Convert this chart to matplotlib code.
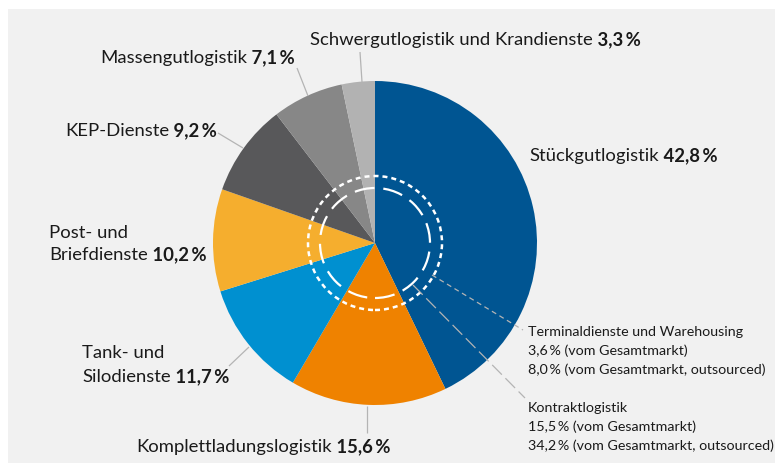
import matplotlib.pyplot as plt
from matplotlib.patches import Rectangle, Circle

W, H = 776, 471

# data
segments = ["Stückgutlogistik", "Komplettladungslogistik", "Tank- und\nSilodienste",
            "Post- und\nBriefdienste", "KEP-Dienste", "Massengutlogistik",
            "Schwergutlogistik und Krandienste"]
shares = [42.8, 15.6, 11.7, 10.2, 9.2, 7.1, 3.3]
share_text = ["42,8\u2009%", "15,6\u2009%", "11,7\u2009%", "10,2\u2009%", "9,2\u2009%", "7,1\u2009%", "3,3\u2009%"]
colors = ["#005592", "#ef8200", "#0090d0", "#f5ae2e", "#58585a", "#878787", "#b2b2b2"]

sub_titles = ["Terminaldienste und Warehousing", "Kontraktlogistik"]
sub_total = ["3,6\u2009% (vom Gesamtmarkt)", "15,5\u2009% (vom Gesamtmarkt)"]
sub_outsourced = ["8,0\u2009% (vom Gesamtmarkt, outsourced)", "34,2\u2009% (vom Gesamtmarkt, outsourced)"]

FONT = ["Lato", "DejaVu Sans"]
FS = 13.3
FS_SMALL = 10.3

fig = plt.figure(figsize=(W / 100, H / 100), dpi=100)
fig.patch.set_facecolor("white")
ax = fig.add_axes([0, 0, 1, 1])
ax.axis("off")

def py(y):
    # pixel row (from top) -> data y
    return H - y

ax.add_patch(Rectangle((8, py(463)), 767, 454, facecolor="#f1f1f1", edgecolor="none", zorder=0))

CX, CY, R = 375, py(243), 162
wedges, _ = ax.pie(shares, colors=colors, startangle=90, counterclock=False,
                   center=(CX, CY), radius=R, wedgeprops=dict(linewidth=0))

# inner circles (sub-markets)
ax.add_patch(Circle((CX, CY), 67, fill=False, edgecolor="white", lw=1.8,
                    linestyle=(0, (2.0, 1.6)), zorder=5))
ax.add_patch(Circle((CX, CY), 55, fill=False, edgecolor="white", lw=1.6,
                    linestyle=(0, (9, 4)), zorder=5))

ax.set_xlim(0, W)
ax.set_ylim(0, H)
ax.set_aspect("equal")

fig.canvas.draw()
renderer = fig.canvas.get_renderer()

def rich(x, y, normal, bold, size=FS):
    t = ax.text(x, py(y), normal, fontsize=size, family=FONT, va="center", ha="left",
                color="#1a1a1a", zorder=6)
    if bold:
        bb = t.get_window_extent(renderer)
        x1 = ax.transData.inverted().transform((bb.x1, bb.y0))[0]
        ax.text(x1, py(y), " " + bold, fontsize=size, family=FONT, fontweight="bold",
                va="center", ha="left", color="#1a1a1a", zorder=6)

def leader(p0, p1, **kw):
    ax.plot([p0[0], p1[0]], [py(p0[1]), py(p1[1])], color="#b4b4b4", lw=0.9,
            solid_capstyle="butt", zorder=6, **kw)

# labels
rich(529, 156, segments[0], share_text[0])
rich(136, 447, segments[1], share_text[1])
rich(82, 353, "Tank- und", None)
rich(82, 377, "Silodienste", share_text[2])
rich(49, 233, "Post- und", None)
rich(49, 255, "Briefdienste", share_text[3])
rich(65, 131, segments[4], share_text[4])
rich(100, 58, segments[5], share_text[5])
rich(310, 40, segments[6], share_text[6])

# leader lines
leader((362, 82), (360, 52))
leader((308, 96), (297, 68))
leader((243, 148), (218, 133))
leader((249, 347), (229, 366))
leader((367, 406), (367, 433))

# sub-market callouts
leader((432, 275), (523, 330), linestyle=(0, (4, 3)))
leader((413, 285), (525, 398), linestyle=(0, (11, 4)))

for i, y0 in enumerate([332, 408]):
    step = 19
    rich(528, y0, sub_titles[i], None, FS_SMALL)
    rich(528, y0 + step, sub_total[i], None, FS_SMALL)
    rich(528, y0 + 2 * step, sub_outsourced[i], None, FS_SMALL)

fig.savefig("out.png", dpi=100, facecolor="white")
